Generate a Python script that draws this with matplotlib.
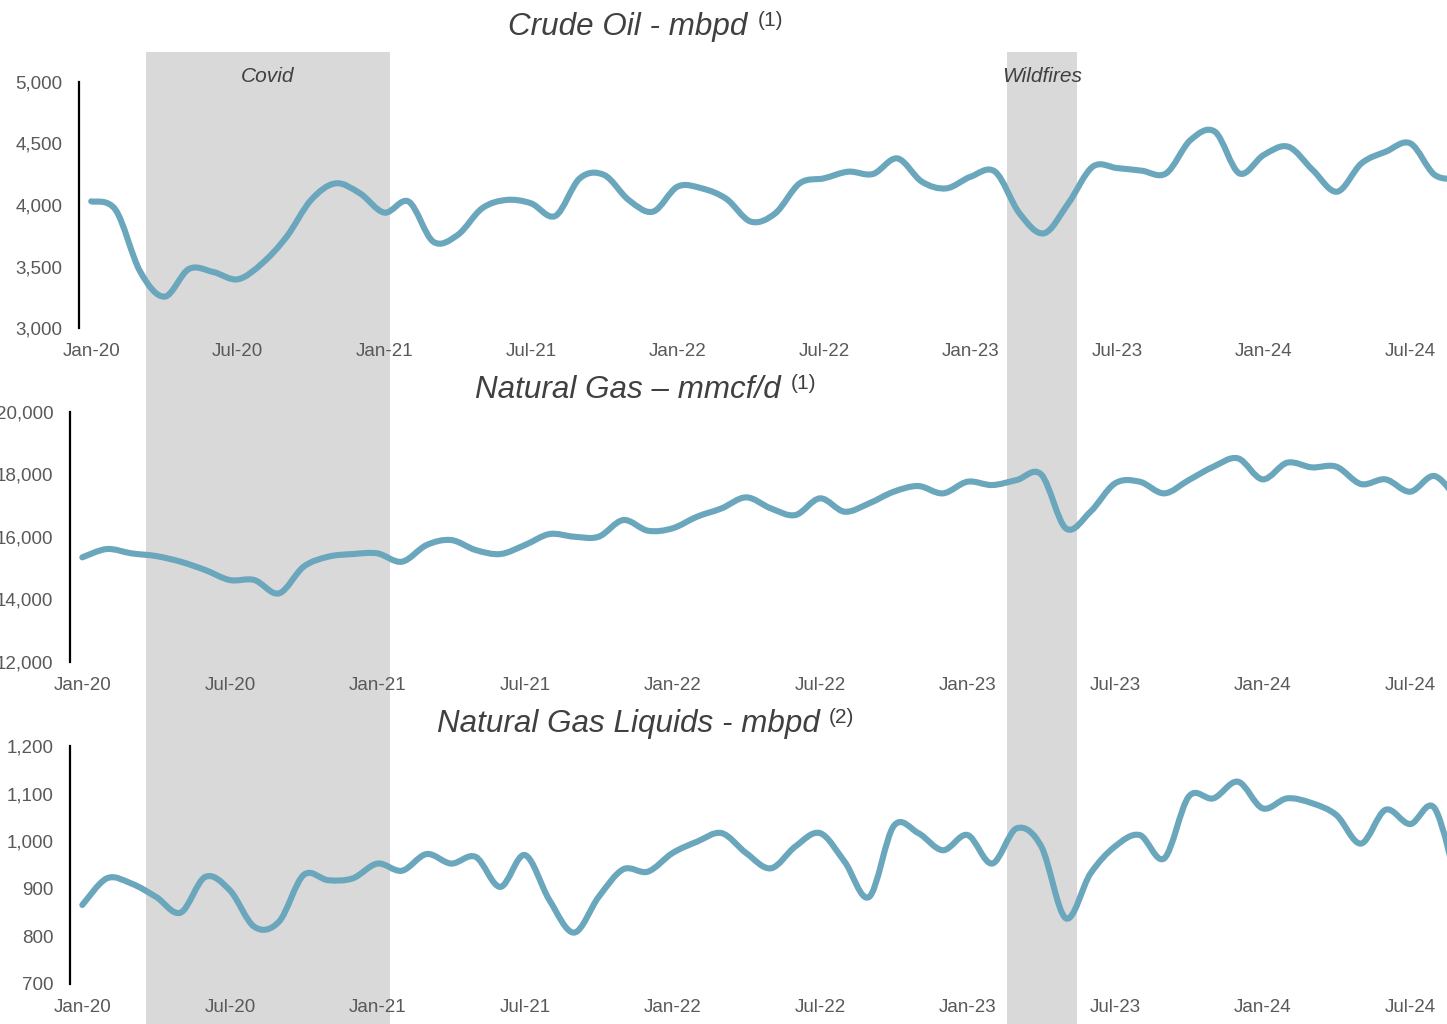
import numpy as np
import matplotlib.pyplot as plt
from matplotlib.path import Path
from matplotlib.patches import PathPatch

plt.rcParams['font.family'] = ['Liberation Sans', 'DejaVu Sans']

# monthly index: 0 = Jan-20 ... 56 = Sep-24
tick_months = [0, 6, 12, 18, 24, 30, 36, 42, 48, 54]
tick_labels = ['Jan-20', 'Jul-20', 'Jan-21', 'Jul-21', 'Jan-22',
               'Jul-22', 'Jan-23', 'Jul-23', 'Jan-24', 'Jul-24']

crude_oil = [4030, 3960, 3460, 3255, 3480, 3455, 3396, 3526, 3742, 4041,
             4176, 4095, 3938, 4027, 3702, 3756, 3973, 4041, 4014, 3911,
             4217, 4244, 4041, 3946, 4149, 4135, 4050, 3865, 3932, 4176,
             4217, 4271, 4252, 4379, 4190, 4135, 4230, 4271, 3932, 3770,
             4014, 4312, 4300, 4279, 4257, 4528, 4596, 4257, 4407, 4474,
             4285, 4108, 4339, 4434, 4501, 4244, 4215]

natural_gas = [15339, 15605, 15467, 15381, 15200, 14933, 14613, 14613, 14187, 15040,
               15360, 15445, 15467, 15200, 15733, 15893, 15573, 15445, 15733, 16085,
               16000, 16000, 16533, 16192, 16267, 16640, 16907, 17259, 16907, 16693,
               17227, 16800, 17067, 17440, 17621, 17387, 17760, 17653, 17813, 17990,
               16267, 16800, 17707, 17760, 17387, 17813, 18240, 18507, 17835, 18368,
               18219, 18240, 17685, 17835, 17440, 17941, 17100]

ngl = [866, 922, 911, 883, 850, 925, 897, 820, 831, 929,
       918, 922, 953, 938, 973, 953, 967, 904, 971, 876,
       808, 883, 941, 936, 975, 999, 1017, 975, 943, 989,
       1017, 957, 883, 1032, 1017, 981, 1013, 953, 1027, 989,
       838, 932, 989, 1013, 964, 1094, 1090, 1125, 1069, 1090,
       1080, 1055, 995, 1066, 1036, 1069, 890]

event_names = ['Covid', 'Wildfires']
event_start = [2.6, 37.6]
event_end = [12.5, 40.45]

LINE = '#6AA6BC'
W, H = 1447, 1024


def smooth_path(y):
    # Excel-style smoothed line: cubic Bezier through each monthly point
    pts = np.column_stack([np.arange(len(y)), np.asarray(y, float)])
    verts = [pts[0]]
    codes = [Path.MOVETO]
    n = len(pts)
    for i in range(n - 1):
        p0 = pts[max(i - 1, 0)]
        p1 = pts[i]
        p2 = pts[i + 1]
        p3 = pts[min(i + 2, n - 1)]
        verts += [p1 + (p2 - p0) / 6, p2 - (p3 - p1) / 6, p2]
        codes += [Path.CURVE4] * 3
    return Path(verts, codes)


fig = plt.figure(figsize=(W / 100, H / 100), dpi=100)

# shaded event bands behind all panels
bg = fig.add_axes([70 / W, 0, (W - 70) / W, (H - 52) / H])
bg.set_xlim(-0.5, 55.5)
bg.set_ylim(0, 1)
bg.axis('off')
bg.set_zorder(0)
for name, s, e in zip(event_names, event_start, event_end):
    bg.axvspan(s, e, color='#D9D9D9', lw=0)
    bg.text((s + e) / 2, 1 - 24 / (H - 52), name, ha='center', va='center',
            style='italic', fontsize=15, color='#404040')

panels = [
    # left, top, bottom (px), values, ylim, yticks, title, note, title baseline
    (79, 82, 328, crude_oil, (3000, 5000), [3000, 3500, 4000, 4500, 5000],
     'Crude Oil - mbpd', '(1)', 35),
    (70, 411.7, 661.7, natural_gas, (12000, 20000), [12000, 14000, 16000, 18000, 20000],
     'Natural Gas \u2013 mmcf/d', '(1)', 398),
    (70, 746, 984, ngl, (700, 1200), [700, 800, 900, 1000, 1100, 1200],
     'Natural Gas Liquids - mbpd', '(2)', 732),
]

for left, top, bottom, vals, ylim, yticks, title, note, base in panels:
    ax = fig.add_axes([left / W, (H - bottom) / H, (W - left) / W, (bottom - top) / H])
    ax.set_zorder(1)
    ax.patch.set_visible(False)
    ax.add_patch(PathPatch(smooth_path(vals), fill=False, edgecolor=LINE, lw=4.4,
                           capstyle='round', joinstyle='round'))
    ax.set_xlim(-0.5, 55.5)
    ax.set_ylim(*ylim)
    ax.set_yticks(yticks)
    ax.set_yticklabels([f'{v:,}' for v in yticks])
    ax.set_xticks(tick_months)
    ax.set_xticklabels(tick_labels)
    ax.tick_params(length=0, labelsize=13.5, labelcolor='#595959')
    ax.tick_params(axis='y', pad=12)
    ax.tick_params(axis='x', pad=11)
    for side in ['top', 'right', 'bottom']:
        ax.spines[side].set_visible(False)
    ax.spines['left'].set_linewidth(1.6)
    ax.spines['left'].set_color('black')

    t = fig.text(628 / W, 1 - base / H, title, ha='center', va='baseline',
                 style='italic', fontsize=22.6, color='#404040')
    ax.annotate(note, xy=(1, 1), xycoords=t, xytext=(7, 1), textcoords='offset points',
                ha='left', va='top', fontsize=15, color='#404040')

fig.savefig('out.png', dpi=100)
